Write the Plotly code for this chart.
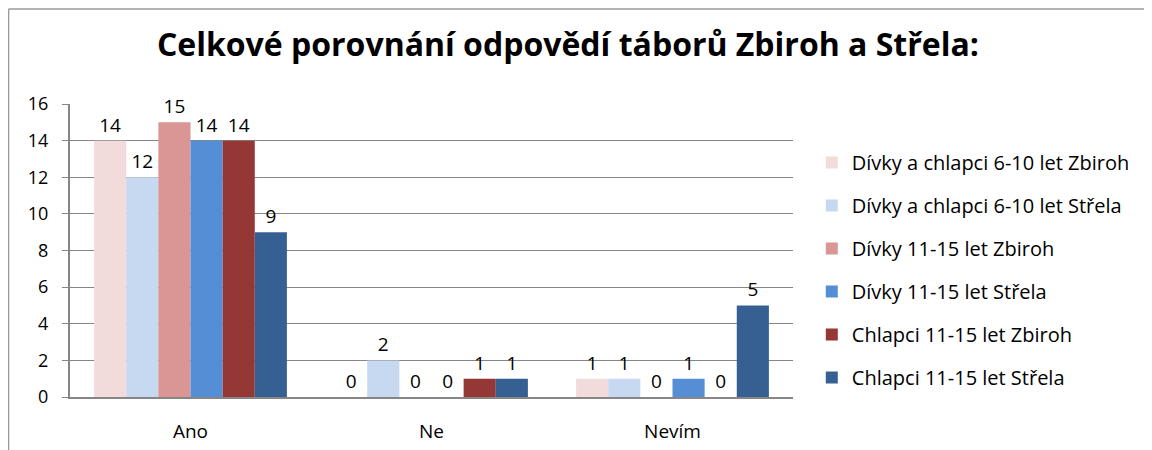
import plotly.graph_objects as go

odpovedi = ['Ano', 'Ne', 'Nevím']

skupiny = [
    'Dívky a chlapci 6-10 let Zbiroh',
    'Dívky a chlapci 6-10 let Střela',
    'Dívky 11-15 let Zbiroh',
    'Dívky 11-15 let Střela',
    'Chlapci 11-15 let Zbiroh',
    'Chlapci 11-15 let Střela',
]

hodnoty = [
    [14, 0, 1],
    [12, 2, 1],
    [15, 0, 0],
    [14, 0, 1],
    [14, 1, 0],
    [9, 1, 5],
]

barvy = ['#F2DCDB', '#C6D9F1', '#D99694', '#558ED5', '#953735', '#376092']

pismo = 'Open Sans'

fig = go.Figure()
for i, (nazev, vals, barva) in enumerate(zip(skupiny, hodnoty, barvy)):
    fig.add_trace(go.Bar(
        x=odpovedi,
        y=vals,
        name=nazev,
        legendgroup=str(i),
        marker=dict(color=barva, line=dict(width=0)),
        text=vals,
        textposition='outside',
        cliponaxis=False,
        textfont=dict(size=19, color='black', family=pismo),
    ))

fig.update_layout(
    width=1152,
    height=450,
    barmode='group',
    bargap=0.2,
    bargroupgap=0,
    plot_bgcolor='white',
    paper_bgcolor='white',
    margin=dict(l=62, r=367, t=96, b=61),
    font=dict(family=pismo, size=18, color='black'),
    title=dict(
        text='<b>Celkové porovnání odpovědí táborů Zbiroh a Střela:</b>',
        x=0.486, xanchor='center',
        y=0.918, yanchor='middle',
        font=dict(size=32, family=pismo, color='black'),
    ),
    legend=dict(
        x=1.026, xanchor='left',
        y=0.867, yanchor='top',
        font=dict(size=20, family=pismo),
        tracegroupgap=14,
        itemwidth=30,
    ),
    showlegend=True,
    shapes=[
        dict(type='line', xref='paper', yref='paper',
             x0=-0.085, x1=1.6, y0=1.324, y1=1.324,
             line=dict(color='#9A9A9A', width=1.5)),
        dict(type='line', xref='paper', yref='paper',
             x0=-0.085, x1=-0.085, y0=1.324, y1=-0.3,
             line=dict(color='#9A9A9A', width=1.5)),
    ],
)

fig.update_xaxes(
    showline=True, linecolor='#868686', linewidth=2,
    ticks='', tickfont=dict(size=19),
    ticklabelstandoff=16,
    showgrid=False,
)
fig.update_yaxes(
    range=[0, 16], dtick=2,
    showline=True, linecolor='#868686', linewidth=2,
    ticks='outside', ticklen=6, tickcolor='#868686',
    gridcolor='#868686', gridwidth=1,
    tickfont=dict(size=18),
    ticklabelstandoff=10,
    zeroline=False,
)

fig.write_html('out.html')
